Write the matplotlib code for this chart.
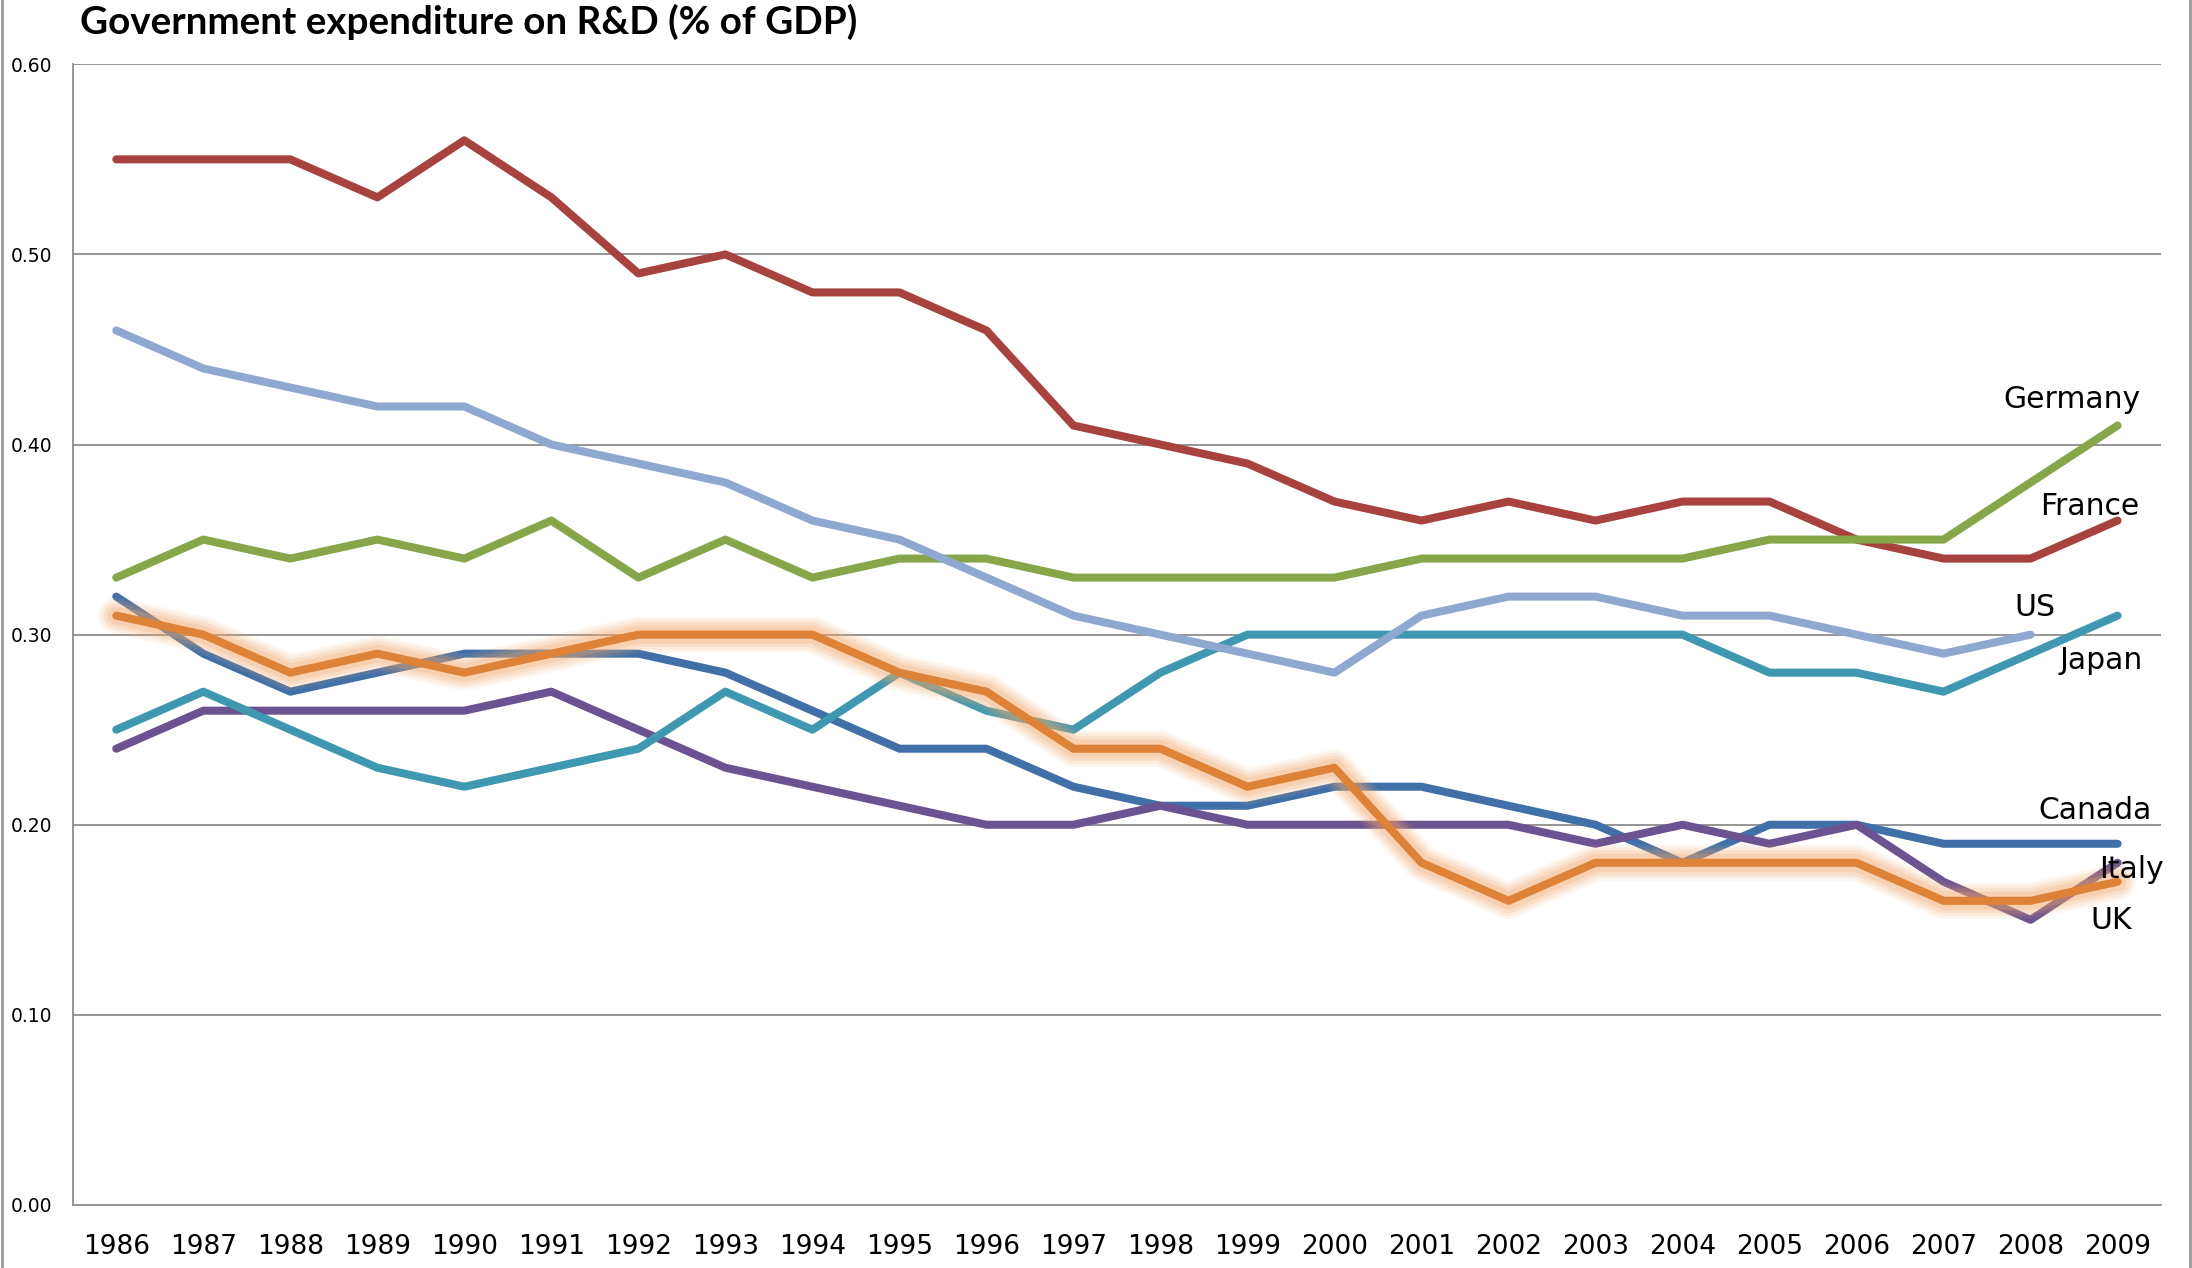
import matplotlib
matplotlib.use("Agg")
import matplotlib.pyplot as plt
from matplotlib.lines import Line2D
import numpy as np

# === DATA ===
years = [1986, 1987, 1988, 1989, 1990, 1991, 1992, 1993, 1994, 1995, 1996, 1997,
         1998, 1999, 2000, 2001, 2002, 2003, 2004, 2005, 2006, 2007, 2008, 2009]

canada = [0.32, 0.29, 0.27, 0.28, 0.29, 0.29, 0.29, 0.28, 0.26, 0.24, 0.24, 0.22,
          0.21, 0.21, 0.22, 0.22, 0.21, 0.20, 0.18, 0.20, 0.20, 0.19, 0.19, 0.19]
france = [0.55, 0.55, 0.55, 0.53, 0.56, 0.53, 0.49, 0.50, 0.48, 0.48, 0.46, 0.41,
          0.40, 0.39, 0.37, 0.36, 0.37, 0.36, 0.37, 0.37, 0.35, 0.34, 0.34, 0.36]
germany = [0.33, 0.35, 0.34, 0.35, 0.34, 0.36, 0.33, 0.35, 0.33, 0.34, 0.34, 0.33,
           0.33, 0.33, 0.33, 0.34, 0.34, 0.34, 0.34, 0.35, 0.35, 0.35, 0.38, 0.41]
italy = [0.24, 0.26, 0.26, 0.26, 0.26, 0.27, 0.25, 0.23, 0.22, 0.21, 0.20, 0.20,
         0.21, 0.20, 0.20, 0.20, 0.20, 0.19, 0.20, 0.19, 0.20, 0.17, 0.15, 0.18]
japan = [0.25, 0.27, 0.25, 0.23, 0.22, 0.23, 0.24, 0.27, 0.25, 0.28, 0.26, 0.25,
         0.28, 0.30, 0.30, 0.30, 0.30, 0.30, 0.30, 0.28, 0.28, 0.27, 0.29, 0.31]
uk = [0.31, 0.30, 0.28, 0.29, 0.28, 0.29, 0.30, 0.30, 0.30, 0.28, 0.27, 0.24,
      0.24, 0.22, 0.23, 0.18, 0.16, 0.18, 0.18, 0.18, 0.18, 0.16, 0.16, 0.17]
us = [0.46, 0.44, 0.43, 0.42, 0.42, 0.40, 0.39, 0.38, 0.36, 0.35, 0.33, 0.31,
      0.30, 0.29, 0.28, 0.31, 0.32, 0.32, 0.31, 0.31, 0.30, 0.29, 0.30, np.nan]

y_ticks = [0.0, 0.1, 0.2, 0.3, 0.4, 0.5, 0.6]

# label anchors (category index, value) for the end-of-line country labels
label_names = ["Germany", "France", "US", "Japan", "Canada", "Italy", "UK"]
label_x = [23.26, 23.25, 22.28, 23.29, 23.39, 23.53, 23.16]
label_y = [0.425, 0.369, 0.316, 0.288, 0.209, 0.178, 0.151]

# === STYLE ===
colors = {
    "Canada": "#4170a8",
    "France": "#a7423f",
    "Germany": "#87a64a",
    "Italy": "#6b5290",
    "Japan": "#3f98b0",
    "UK": "#dd8236",
    "US": "#8ea8cf",
}
lw = 5.8

fig = plt.figure(figsize=(21.92, 12.68), dpi=100)
ax = fig.add_axes([0.0332, 0.0497, 0.9527, 0.8996])

x = np.arange(len(years))

series = [("Canada", canada), ("France", france), ("Germany", germany),
          ("Italy", italy), ("Japan", japan)]
for name, vals in series:
    ax.plot(x, vals, color=colors[name], lw=lw, solid_joinstyle="round",
            solid_capstyle="round", zorder=3)

# UK line with soft orange glow
for w, a in [(26, 0.10), (22, 0.13), (18, 0.17), (13, 0.25)]:
    ax.plot(x, uk, color="#f4a86a", lw=w, alpha=a, solid_joinstyle="round",
            solid_capstyle="round", zorder=4)
ax.plot(x, uk, color=colors["UK"], lw=lw, solid_joinstyle="round",
        solid_capstyle="round", zorder=5)

ax.plot(x, us, color=colors["US"], lw=lw, solid_joinstyle="round",
        solid_capstyle="round", zorder=6)

# axes
ax.set_xlim(-0.5, len(years) - 0.5)
ax.set_ylim(0, 0.6)
ax.set_yticks(y_ticks)
ax.set_yticklabels([f"{t:.2f}" for t in y_ticks], fontsize=13.5, family="DejaVu Sans")
ax.set_xticks(x)
ax.set_xticklabels([str(y) for y in years], fontsize=19,
                   family=["Liberation Sans Narrow", "DejaVu Sans"])
ax.tick_params(axis="both", length=0)
ax.tick_params(axis="y", pad=15)
ax.tick_params(axis="x", pad=21)

for t in y_ticks[1:]:
    ax.axhline(t, color="#8c8c8c", lw=1.3, zorder=1)
for s in ["top", "right"]:
    ax.spines[s].set_visible(False)
ax.spines["left"].set_color("#8c8c8c")
ax.spines["left"].set_linewidth(1.3)
ax.spines["bottom"].set_color("#8c8c8c")
ax.spines["bottom"].set_linewidth(1.3)

for name, lx, ly in zip(label_names, label_x, label_y):
    ax.text(lx, ly, name, ha="right", va="center_baseline", fontsize=21.5,
            family="DejaVu Sans", color="black", zorder=10)

fig.text(0.0365, 0.983, "Government expenditure on R&D (% of GDP)",
         fontsize=27.8, fontweight="bold", family="Lato", ha="left", va="center")

# chart border on the left and right edges
fig.add_artist(Line2D([0.0008, 0.0008], [0, 1], color="#999999", lw=2,
                      transform=fig.transFigure))
fig.add_artist(Line2D([0.9990, 0.9990], [0, 1], color="#999999", lw=2,
                      transform=fig.transFigure))

fig.savefig("out.png", dpi=100)
